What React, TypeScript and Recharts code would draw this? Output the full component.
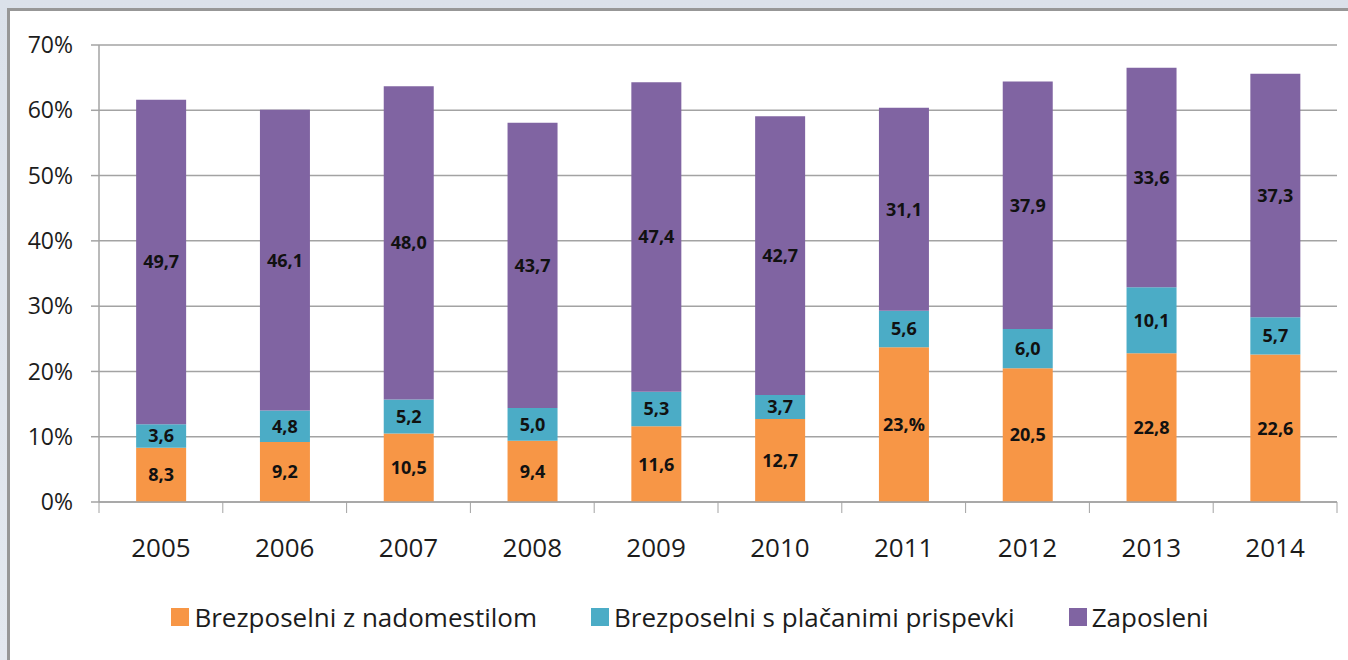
import { BarChart, Bar, XAxis, YAxis, CartesianGrid, Legend, LabelList } from "recharts";

const YEARS = ["2005", "2006", "2007", "2008", "2009", "2010", "2011", "2012", "2013", "2014"];
const Z_NADOMESTILOM = [8.3, 9.2, 10.5, 9.4, 11.6, 12.7, 23.7, 20.5, 22.8, 22.6];
const S_PRISPEVKI = [3.6, 4.8, 5.2, 5.0, 5.3, 3.7, 5.6, 6.0, 10.1, 5.7];
const ZAPOSLENI = [49.7, 46.1, 48.0, 43.7, 47.4, 42.7, 31.1, 37.9, 33.6, 37.3];
// data labels as printed in the source (2011 is shown as "23,%")
const Z_NADOMESTILOM_LABELS = ["8,3", "9,2", "10,5", "9,4", "11,6", "12,7", "23,%", "20,5", "22,8", "22,6"];
const Y_TICKS = [0, 10, 20, 30, 40, 50, 60, 70];
const SERIES_ORDER = ["nad", "pri", "zap"];

const fmt = (v: number) => v.toFixed(1).replace(".", ",");

const DATA = YEARS.map((year, i) => ({
  year,
  nad: Z_NADOMESTILOM[i],
  pri: S_PRISPEVKI[i],
  zap: ZAPOSLENI[i],
  nadLabel: Z_NADOMESTILOM_LABELS[i],
  priLabel: fmt(S_PRISPEVKI[i]),
  zapLabel: fmt(ZAPOSLENI[i]),
}));

const FONT = "'Open Sans', 'Liberation Sans', sans-serif";
const GRID = "#a3a3a3";
const TEXT = "#1c1c1c";

function YearTick(props: any) {
  const { x, y, payload, index } = props;
  const half = payload.offset ?? 0;
  return (
    <g>
      <line x1={x - half} x2={x - half} y1={y} y2={y + 11} stroke={GRID} />
      {index === YEARS.length - 1 && (
        <line x1={x + half} x2={x + half} y1={y} y2={y + 11} stroke={GRID} />
      )}
      <text x={x} y={y + 55} textAnchor="middle" fontSize={26} fill={TEXT} fontFamily={FONT}>
        {payload.value}
      </text>
    </g>
  );
}

function LegendBox(props: any) {
  const items = [...(props.payload || [])].sort(
    (a: any, b: any) => SERIES_ORDER.indexOf(a.dataKey) - SERIES_ORDER.indexOf(b.dataKey)
  );
  return (
    <div
      style={{
        display: "flex",
        justifyContent: "center",
        alignItems: "center",
        height: 36,
        paddingLeft: 32,
        fontFamily: FONT,
        fontSize: 26,
        color: TEXT,
      }}
    >
      {items.map((e: any, i: number) => (
        <span
          key={e.value}
          style={{ display: "flex", alignItems: "center", marginRight: i < items.length - 1 ? 54 : 0 }}
        >
          <span style={{ width: 18, height: 18, background: e.color, marginRight: 5, display: "inline-block" }} />
          <span>{e.value}</span>
        </span>
      ))}
    </div>
  );
}

const labelStyle = { fontSize: 18, fontWeight: 700, fill: "#111", fontFamily: FONT };

export default function App() {
  return (
    <div
      style={{
        position: "absolute",
        left: 0,
        top: 0,
        width: 1348,
        height: 660,
        overflow: "hidden",
        background: "linear-gradient(180deg, #dbe1ea, #e3e8ef)",
      }}
    >
      <div
        style={{
          position: "absolute",
          left: 7,
          top: 8,
          width: 1360,
          height: 680,
          background: "#fff",
          borderLeft: "3px solid #979797",
          borderTop: "3px solid #979797",
        }}
      />
      <div style={{ position: "absolute", left: 0, top: 0 }}>
        <BarChart
          width={1348}
          height={660}
          data={DATA}
          margin={{ top: 45, right: 11, left: 0, bottom: 25 }}
          barCategoryGap="30%"
          style={{ fontFamily: FONT }}
        >
          <CartesianGrid vertical={false} stroke={GRID} strokeWidth={1.5} />
          <XAxis
            dataKey="year"
            height={97}
            axisLine={{ stroke: GRID, strokeWidth: 1.5 }}
            tickLine={false}
            tickSize={0}
            tickMargin={0}
            tick={<YearTick />}
            interval={0}
          />
          <YAxis
            width={99}
            domain={[0, 70]}
            ticks={Y_TICKS}
            tickFormatter={(v: number) => `${v}%`}
            axisLine={{ stroke: GRID, strokeWidth: 1.5 }}
            tickLine={{ stroke: GRID, strokeWidth: 1.5 }}
            tickSize={8}
            tickMargin={18}
            tick={{ fontSize: 23, fill: TEXT, fontFamily: FONT }}
          />
          <Legend
            verticalAlign="bottom"
            content={<LegendBox />}
            wrapperStyle={{ left: 0, width: 1348 }}
          />
          <Bar dataKey="nad" name="Brezposelni z nadomestilom" stackId="a" fill="#F79646" isAnimationActive={false}>
            <LabelList dataKey="nadLabel" position="center" style={labelStyle} />
          </Bar>
          <Bar dataKey="pri" name="Brezposelni s plačanimi prispevki" stackId="a" fill="#4BACC6" isAnimationActive={false}>
            <LabelList dataKey="priLabel" position="center" style={labelStyle} />
          </Bar>
          <Bar dataKey="zap" name="Zaposleni" stackId="a" fill="#8064A2" isAnimationActive={false}>
            <LabelList dataKey="zapLabel" position="center" style={labelStyle} />
          </Bar>
        </BarChart>
      </div>
    </div>
  );
}
